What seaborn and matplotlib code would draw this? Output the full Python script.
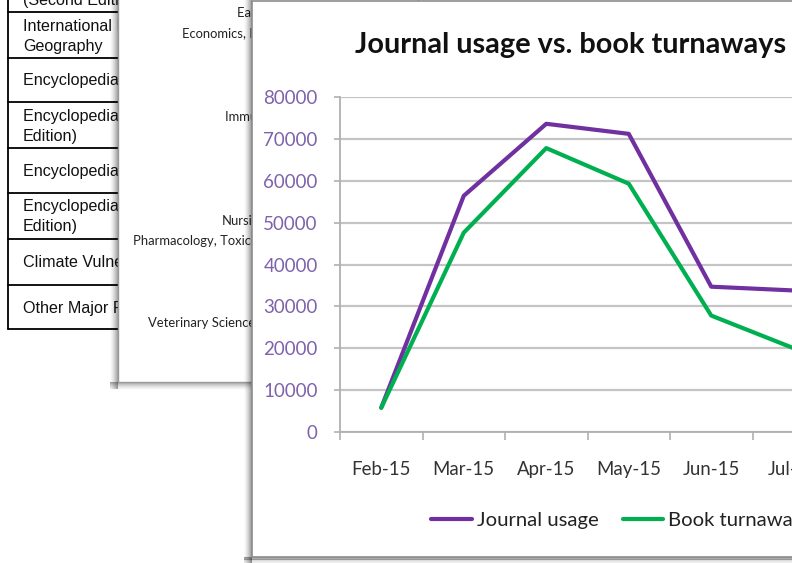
import numpy as np
import pandas as pd
import matplotlib
matplotlib.use("Agg")
import matplotlib.pyplot as plt
import seaborn as sns
from matplotlib.patches import Rectangle

# ---- chart data ----
months = ["Feb-15", "Mar-15", "Apr-15", "May-15", "Jun-15", "Jul-15"]
journal_usage = [5800, 56400, 73600, 71200, 34700, 33800]
book_turnaways = [5800, 47600, 67800, 59300, 27800, 20000]
series_names = ["Journal usage", "Book turnaways"]
y_ticks = [0, 10000, 20000, 30000, 40000, 50000, 60000, 70000, 80000]
chart_title = "Journal usage vs. book turnaways"

# ---- slide behind: reference works table ----
table_rows = [
    ("(Second Edition)", None),
    ("International Encyclopedia of Human", "Geography"),
    ("Encyclopedia of Ecology", None),
    ("Encyclopedia of Evolutionary Biology (Second", "Edition)"),
    ("Encyclopedia of Infectious Diseases", None),
    ("Encyclopedia of Applied Ecology (Second", "Edition)"),
    ("Climate Vulnerability", None),
    ("Other Major Reference Works", None),
]
# ---- slide behind: subject area labels ----
subject_labels = [
    "Earth and Planetary Sciences",
    "Economics, Econometrics and Finance",
    "Immunology and Microbiology",
    "Nursing",
    "Pharmacology, Toxicology and Pharmaceutics",
    "Veterinary Science",
]

W, H = 792, 563
sns.set_style("white")
plt.rcParams["font.family"] = ["Lato", "DejaVu Sans"]

fig = plt.figure(figsize=(W / 100, H / 100), dpi=100)
fig.patch.set_facecolor("white")

# overlay in pixel units for the stacked slides
ov = fig.add_axes([0, 0, 1, 1], zorder=0)
ov.set_xlim(0, W)
ov.set_ylim(H, 0)
ov.axis("off")


def shade(x0, x1, y0, y1, horizontal, dark_first, z, steps=8, peak=0.45):
    for i in range(steps):
        a = peak * (1 - i / steps) ** 1.5
        if horizontal:
            w = (x1 - x0) / steps
            xs = x0 + (i if dark_first else steps - 1 - i) * w
            ov.add_patch(Rectangle((xs, y0), w + 0.3, y1 - y0, facecolor="black",
                                   alpha=a, lw=0, zorder=z))
        else:
            h = (y1 - y0) / steps
            ys = y0 + (i if dark_first else steps - 1 - i) * h
            ov.add_patch(Rectangle((x0, ys), x1 - x0, h + 0.3, facecolor="black",
                                   alpha=a, lw=0, zorder=z))


# table lines
row_edges = [12, 58, 102, 148, 193, 239, 285, 329]
for y in row_edges:
    ov.plot([8, 200], [y, y], color="black", lw=1.3, zorder=1)
ov.plot([8, 8], [-5, 329], color="black", lw=1.3, zorder=1)

row_tops = [-14] + row_edges[:-1]
row_bots = [12] + row_edges[1:]
for (l1, l2), top, bot in zip(table_rows, row_tops, row_bots):
    mid = (top + bot) / 2
    kw = dict(fontsize=11.6, family=["Liberation Sans", "DejaVu Sans"],
              color="#111111", ha="left", va="center", zorder=1)
    if l2 is None:
        ov.text(23, mid + 1, l1, **kw)
    else:
        ov.text(23, mid - 9, l1, **kw)
        ov.text(23, mid + 11, l2, **kw)

# middle slide
shade(110, 118, -5, 389, True, False, 2, peak=0.35)
shade(110, 400, 382, 390, False, True, 2, peak=0.35)
ov.add_patch(Rectangle((118, -10), 300, 392, facecolor="white",
                       edgecolor="#9a9a9a", lw=1.0, zorder=2.5))
subj_x = [237, 182, 225, 222, 133, 148]
subj_y = [13, 33, 117, 221, 241, 323]
for lab, x, y in zip(subject_labels, subj_x, subj_y):
    ov.text(x, y, lab, fontsize=9.4, color="#222222", ha="left", va="center",
            zorder=3)

# front slide
shade(244, 252, -5, 563, True, False, 4, peak=0.4)
shade(244, 800, 557, 563, False, True, 4, peak=0.4)
ov.add_patch(Rectangle((252, 1), 600, 556, facecolor="white",
                       edgecolor="#8c8c8c", lw=1.2, zorder=4.5))
ov.text(355, 45, chart_title, fontsize=20.8, fontweight="bold",
        color="#111111", ha="left", va="center", zorder=5)

# ---- the line chart ----
n = len(months)
cat_w = 82.5
left_px, top_px, bot_px = 340, 97, 432
ax = fig.add_axes([left_px / W, 1 - bot_px / H, n * cat_w / W, (bot_px - top_px) / H],
                  zorder=2)
ax.set_facecolor("none")

df = pd.DataFrame({
    "pos": list(np.arange(n)) * 2,
    "value": journal_usage + book_turnaways,
    "series": [series_names[0]] * n + [series_names[1]] * n,
})
sns.lineplot(data=df, x="pos", y="value", hue="series", hue_order=series_names,
             palette=["#7030a0", "#00b050"], linewidth=3.0, ax=ax, sort=False)

ax.set_xlim(-0.5, n - 0.5)
ax.set_ylim(0, 80000)
ax.set_xlabel("")
ax.set_ylabel("")
ax.set_yticks(y_ticks)
ax.set_yticklabels([str(v) for v in y_ticks])
ax.yaxis.grid(True, color="#c4c4c4", linewidth=1.6)
ax.xaxis.grid(False)
ax.set_axisbelow(True)
for s in ["top", "right"]:
    ax.spines[s].set_visible(False)
for s in ["left", "bottom"]:
    ax.spines[s].set_color("#b0b0b0")
    ax.spines[s].set_linewidth(1.3)

ax.tick_params(axis="y", which="major", length=4, width=1.2, color="#b0b0b0",
               labelcolor="#7e62ad", labelsize=13.5, pad=12, left=True)
ax.set_xticks(np.arange(-0.5, n + 0.5, 1.0))
ax.set_xticklabels([])
ax.set_xticks(np.arange(n), minor=True)
ax.set_xticklabels(months, minor=True)
ax.tick_params(axis="x", which="major", length=6, width=1.2, color="#b0b0b0",
               direction="out", bottom=True)
ax.tick_params(axis="x", which="minor", length=0, labelsize=13.4, labelcolor="#333333",
               pad=21)

axw = n * cat_w
sns.move_legend(ax, loc="center left",
                bbox_to_anchor=((431 - left_px) / axw, (bot_px - 520) / (bot_px - top_px)),
                ncol=2, title=None, frameon=False, fontsize=14.6,
                handlelength=2.0, handletextpad=0.25, columnspacing=1.2,
                borderaxespad=0, borderpad=0)
leg = ax.get_legend()
for t in leg.get_texts():
    t.set_color("#222222")
for h in leg.legend_handles:
    h.set_linewidth(3.0)

fig.savefig("out.png", dpi=100)
